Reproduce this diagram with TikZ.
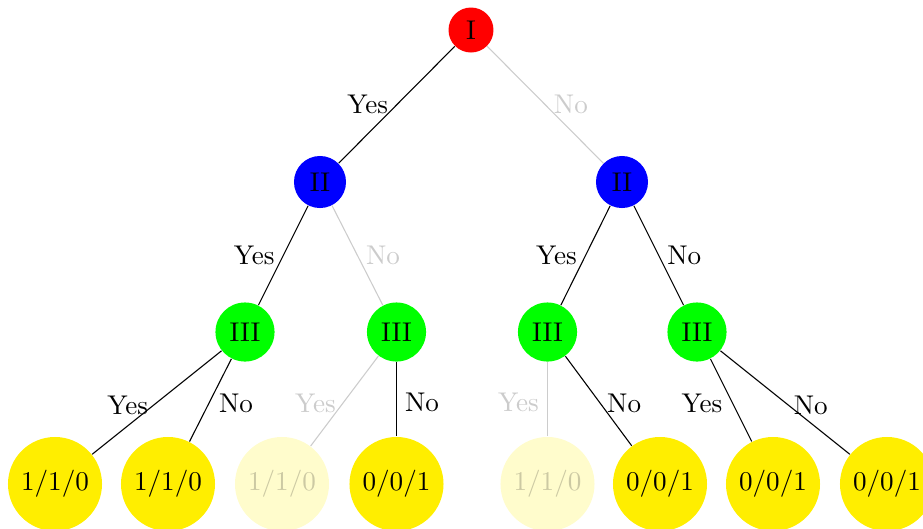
\documentclass[tikz,border=0pt]{standalone}
\usetikzlibrary{calc}
\definecolor{leafyellow}{RGB}{255,238,0}
\definecolor{nodegreen}{RGB}{0,255,0}
\begin{document}
\begin{tikzpicture}[x=0.369pt,y=-0.369pt,
  pone/.style={circle,fill=red,minimum size=16.6pt,inner sep=0pt},
  ptwo/.style={circle,fill=blue,minimum size=19.2pt,inner sep=0pt},
  pthree/.style={circle,fill=nodegreen,minimum size=21.8pt,inner sep=0pt},
  leaf/.style={circle,fill=leafyellow,minimum size=34.7pt,inner sep=0pt},
  fadedleaf/.style={leaf,fill opacity=0.2,text opacity=0.2},
  edge/.style={draw=black,line width=0.4pt},
  fadededge/.style={draw=black!20,line width=0.4pt},
  lab/.style={midway,inner sep=3pt},
  fadedlab/.style={lab,text=black!20},
  low/.style={yshift=-1pt}]
\useasboundingbox (0,0) rectangle (923,528);
\node[pone] (a) at (471,30) {I};
\node[ptwo] (b1) at (320,182) {II};
\node[ptwo] (b2) at (622,182) {II};
\node[pthree] (c1) at (245,332) {III};
\node[pthree] (c2) at (396.5,332) {III};
\node[pthree] (c3) at (547.5,332) {III};
\node[pthree] (c4) at (697,332) {III};
\node[leaf] (d1) at (55,484) {1/1/0};
\node[leaf] (d2) at (168,484) {1/1/0};
\node[fadedleaf] (d3) at (282,484) {1/1/0};
\node[leaf] (d4) at (396.5,484) {0/0/1};
\node[fadedleaf] (d5) at (547.5,484) {1/1/0};
\node[leaf] (d6) at (660,484) {0/0/1};
\node[leaf] (d7) at (773,484) {0/0/1};
\node[leaf] (d8) at (887,484) {0/0/1};
\draw[edge] (a) -- node[lab,left] {Yes} (b1);
\draw[fadededge] (a) -- node[fadedlab,right] {No} (b2);
\draw[edge] (b1) -- node[lab,left] {Yes} (c1);
\draw[fadededge] (b1) -- node[fadedlab,right] {No} (c2);
\draw[edge] (b2) -- node[lab,left] {Yes} (c3);
\draw[edge] (b2) -- node[lab,right] {No} (c4);
\draw[edge] (c1) -- node[lab,left,low] {Yes} (d1);
\draw[edge] (c1) -- node[lab,right,low] {No} (d2);
\draw[fadededge] (c2) -- node[fadedlab,left,low] {Yes} (d3);
\draw[edge] (c2) -- node[lab,right,low] {No} (d4);
\draw[fadededge] (c3) -- node[fadedlab,left,low] {Yes} (d5);
\draw[edge] (c3) -- node[lab,right,low] {No} (d6);
\draw[edge] (c4) -- node[lab,left,low] {Yes} (d7);
\draw[edge] (c4) -- node[lab,right,low] {No} (d8);
\end{tikzpicture}
\end{document}
